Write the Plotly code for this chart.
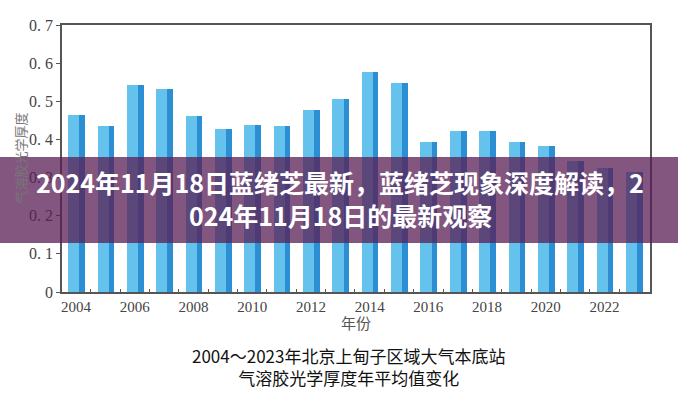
import plotly.graph_objects as go

years = list(range(2004, 2024))
aod = [0.464, 0.435, 0.543, 0.532, 0.462, 0.427, 0.437, 0.435, 0.477, 0.505,
       0.577, 0.547, 0.393, 0.423, 0.423, 0.393, 0.383, 0.344, 0.325, 0.315]
x_tick_vals = list(range(2004, 2024, 2))
x_tick_text = [str(v) for v in x_tick_vals]
y_tick_vals = [0, 0.1, 0.2, 0.3, 0.4, 0.5, 0.6, 0.7]
y_tick_text = ["0", "0. 1", "0. 2", "0. 3", "0. 4", "0. 5", "0. 6", "0. 7"]
minor_x = [y + 0.5 for y in range(2004, 2023)]

banner_line1 = "2024年11月18日蓝绪芝最新，蓝绪芝现象深度解读，2"
banner_line2 = "024年11月18日的最新观察"
caption1 = "2004～2023年北京上甸子区域大气本底站"
caption2 = "气溶胶光学厚度年平均值变化"
y_title = "气溶胶光学厚度"
x_title = "年份"

fig = go.Figure()
# front face
fig.add_trace(go.Bar(x=years, y=aod, width=0.38, offset=-0.27,
                     marker=dict(color="#64C2EC", line=dict(width=0)),
                     hoverinfo="skip", showlegend=False))
# side face
fig.add_trace(go.Bar(x=years, y=aod, width=0.19, offset=0.11,
                     marker=dict(color="#2C8FD3", line=dict(width=0)),
                     hoverinfo="skip", showlegend=False))

serif = "Liberation Serif, Times New Roman, serif"
cjk = "Noto Sans CJK SC, sans-serif"


def ann(text, x, y, size, color, angle=0):
    return dict(text=text, xref="paper", yref="paper", x=x, y=y,
                xanchor="center", yanchor="middle", textangle=angle,
                showarrow=False, font=dict(family=cjk, size=size, color=color))


fig.update_layout(
    width=678, height=400,
    margin=dict(l=62, r=28, t=25, b=108),
    paper_bgcolor="white", plot_bgcolor="white",
    barmode="overlay", bargap=0,
    xaxis=dict(range=[2003.52, 2023.55], tickmode="array",
               tickvals=x_tick_vals, ticktext=x_tick_text, ticks="",
               showgrid=False, zeroline=False,
               showline=True, linecolor="#555", linewidth=1.5, mirror=True,
               tickfont=dict(family=serif, size=15, color="#444"),
               minor=dict(tickvals=minor_x, ticks="inside", ticklen=3,
                          tickcolor="#555", tickwidth=1)),
    yaxis=dict(range=[0, 0.7], tickmode="array", tickvals=y_tick_vals,
               ticktext=y_tick_text, ticks="outside", ticklen=4,
               tickcolor="#555", showgrid=False, zeroline=False,
               showline=True, linecolor="#555", linewidth=1.5, mirror=True,
               tickfont=dict(family=serif, size=16, color="#444")),
    shapes=[dict(type="rect", xref="paper", yref="paper",
                 x0=-0.2, x1=1.2, y0=0.1835, y1=0.5056,
                 fillcolor="rgba(90,30,85,0.75)", line=dict(width=0),
                 layer="above")],
    annotations=[
        ann(x_title, 0.5, -0.116, 15, "#555"),
        ann(y_title, -0.0714, 0.5, 13, "#777", -90),
        ann(caption1 + "<br>" + caption2, 0.488, -0.279, 17, "#111"),
        ann("<b>" + banner_line1 + "</b>", 0.473, 0.412, 25, "white"),
        ann("<b>" + banner_line2 + "</b>", 0.473, 0.288, 25, "white"),
    ],
)

fig.write_html("out.html", config={"displayModeBar": False},
               post_script="document.body.style.margin='0';document.body.style.padding='0';")
